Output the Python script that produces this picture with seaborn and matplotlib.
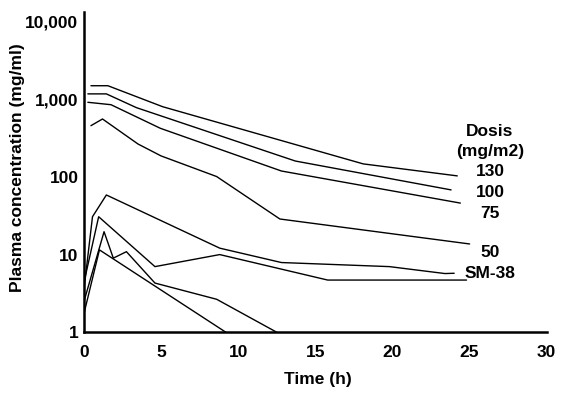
import pandas as pd
import matplotlib
matplotlib.use("Agg")
import matplotlib.pyplot as plt
import seaborn as sns

# Plasma concentration curves (time in h, conc in mg/ml)
t_130 = [0.45, 1.55, 5.1, 18.1, 24.2]
c_130 = [1490, 1490, 800, 147, 103]

t_100 = [0.25, 1.45, 3.4, 13.7, 23.8]
c_100 = [1170, 1170, 778, 160, 68]

t_75 = [0.25, 1.75, 4.95, 12.8, 24.4]
c_75 = [912, 849, 422, 119, 46]

t_50 = [0.45, 1.2, 3.5, 5.0, 8.6, 12.7, 25.0]
c_50 = [456, 556, 265, 186, 101, 28.7, 13.7]

t_low_a = [0, 0.55, 1.45, 8.8, 12.8, 19.8, 23.4, 24.0]
c_low_a = [3.6, 30.7, 58.5, 12.1, 7.9, 7.0, 5.7, 5.75]

t_sm38 = [0, 0.95, 4.6, 8.8, 15.8, 24.8]
c_sm38 = [4.4, 30.7, 7.0, 10.0, 4.7, 4.7]

t_low_b = [0, 1.3, 1.9, 2.75, 4.6, 8.6, 12.5]
c_low_b = [2.5, 19.7, 9.0, 10.9, 4.3, 2.66, 1.0]

t_low_c = [0, 1.0, 9.2]
c_low_c = [1.75, 11.5, 1.0]

curves = {
    "130": (t_130, c_130),
    "100": (t_100, c_100),
    "75": (t_75, c_75),
    "50": (t_50, c_50),
    "low_a": (t_low_a, c_low_a),
    "SM-38": (t_sm38, c_sm38),
    "low_b": (t_low_b, c_low_b),
    "low_c": (t_low_c, c_low_c),
}

x_ticks = [0, 5, 10, 15, 20, 25, 30]
y_ticks = [1, 10, 100, 1000, 10000]
y_tick_labels = ["1", "10", "100", "1,000", "10,000"]
legend_lines = ["Dosis", "(mg/m2)", "130", "100", "75", "50", "SM-38"]

rows = []
for name, (ts, cs) in curves.items():
    for i, (t, c) in enumerate(zip(ts, cs)):
        rows.append({"curve": name, "order": i, "time": t, "conc": c})
df = pd.DataFrame(rows)

sns.set_theme(style="white")
plt.rcParams["font.family"] = ["Liberation Sans", "DejaVu Sans"]
plt.rcParams["font.weight"] = "bold"
plt.rcParams["text.color"] = "black"
plt.rcParams["axes.labelcolor"] = "black"
plt.rcParams["xtick.color"] = "black"
plt.rcParams["ytick.color"] = "black"

fig = plt.figure(figsize=(5.63, 3.96), dpi=100)
ax = fig.add_axes([0.1492, 0.1609, 0.8219, 0.8096])

sns.lineplot(data=df, x="time", y="conc", units="curve", estimator=None,
             sort=False, color="black", linewidth=1.0, ax=ax)

ax.set_yscale("log")
ax.set_xlim(0, 30)
ax.set_ylim(1, 13370)
ax.set_xticks(x_ticks)
ax.set_xticklabels([str(v) for v in x_ticks], fontsize=12.5, fontweight="bold")
ax.set_yticks(y_ticks)
ax.set_yticklabels(y_tick_labels, fontsize=12.5, fontweight="bold")
ax.minorticks_off()

for side in ["top", "right"]:
    ax.spines[side].set_visible(False)
for side in ["left", "bottom"]:
    ax.spines[side].set_linewidth(1.8)
    ax.spines[side].set_color("black")

ax.tick_params(axis="x", direction="in", length=6, width=1.6, pad=9, colors="black")
ax.tick_params(axis="y", direction="out", length=3.5, width=1.6, pad=0.5, colors="black")
ax.grid(False)

ax.set_xlabel("Time (h)", fontsize=12.5, fontweight="bold", color="black")
ax.xaxis.set_label_coords(0.5064, -0.125)
ax.set_ylabel("Plasma concentration (mg/ml)", fontsize=12.5, fontweight="bold", color="black")
ax.yaxis.set_label_coords(-0.128, 0.515)

# dose labels at the right end of the curves
label_y = [0.6257, 0.5633, 0.5009, 0.4367, 0.3712, 0.2483, 0.1840]
for txt, yy in zip(legend_lines, label_y):
    ax.text(0.8775, yy, txt, transform=ax.transAxes, ha="center", va="center",
            fontsize=12.5, fontweight="bold", color="black")

fig.savefig("out.png", dpi=100)
